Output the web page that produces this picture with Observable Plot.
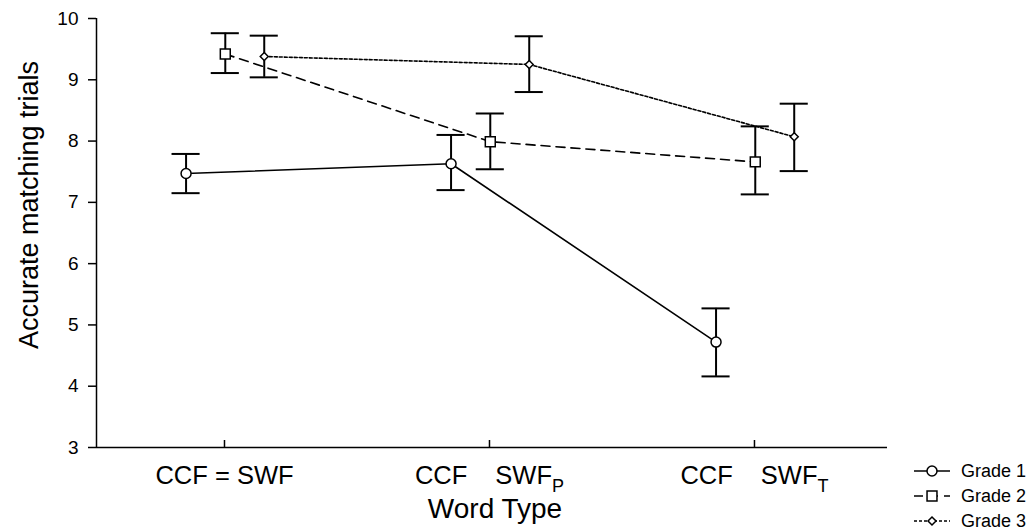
<!DOCTYPE html>
<html><head><meta charset="utf-8">
<script src="https://cdn.jsdelivr.net/npm/d3@7"></script>
<script src="https://cdn.jsdelivr.net/npm/@observablehq/plot@0.6"></script>
<style>body{margin:0;background:#fff;} #chart{width:1035px;height:530px;}</style>
</head><body><div id="chart"></div>
<script>
// ---- data ----
const categories = ["CCF = SWF", "CCF SWF_P", "CCF SWF_T"];
const tickMain = ["CCF = SWF", "CCF", "CCF"];
const tickSecond = ["", "SWF", "SWF"];
const tickSub = ["", "P", "T"];
const grades = ["Grade 1", "Grade 2", "Grade 3"];
const grade1Mean = [7.47, 7.63, 4.72];
const grade1Low  = [7.15, 7.20, 4.16];
const grade1High = [7.79, 8.10, 5.27];
const grade2Mean = [9.42, 7.99, 7.66];
const grade2Low  = [9.11, 7.54, 7.13];
const grade2High = [9.76, 8.45, 8.24];
const grade3Mean = [9.38, 9.25, 8.07];
const grade3Low  = [9.04, 8.80, 7.51];
const grade3High = [9.72, 9.71, 8.61];
const yTicks = [3, 4, 5, 6, 7, 8, 9, 10];

// ---- styles ----
const offsets = [-0.145, 0.003, 0.15];
const dashes = [null, "9,6", "3,2"];
const symbols = ["circle", "square", "diamond2"];
const radii = [5, 5.6, 3.6];
const capHalf = 0.053;
const FONT = "'Liberation Sans', Arial, Helvetica, sans-serif";

const series = [
  [grade1Mean, grade1Low, grade1High],
  [grade2Mean, grade2Low, grade2High],
  [grade3Mean, grade3Low, grade3High]
];
const rows = [];
series.forEach(([m, lo, hi], g) => {
  categories.forEach((c, i) => {
    rows.push({grade: grades[g], g, cat: c, x: i + offsets[g], mean: m[i], lo: lo[i], hi: hi[i]});
  });
});

const xDomain = [-0.483, 2.502];
const marks = [
  Plot.ruleY([3], {stroke: "black", strokeWidth: 1.5}),
  Plot.ruleX([xDomain[0]], {stroke: "black", strokeWidth: 1.5}),
  Plot.axisY({ticks: yTicks, tickSize: 8, tickPadding: 10, tickFormat: d => String(d), fontSize: 19, label: null, strokeWidth: 1.5}),
  Plot.axisX({ticks: [0, 1, 2], tickSize: -7, tickPadding: 25, tickFormat: i => tickMain[i], fontSize: 25.5, label: null, strokeWidth: 1.5}),
];
grades.forEach((gr, g) => {
  marks.push(Plot.line(rows.filter(d => d.g === g), {x: "x", y: "mean", stroke: "black", strokeWidth: 1.6, strokeDasharray: dashes[g]}));
});
marks.push(
  Plot.ruleX(rows, {x: "x", y1: "lo", y2: "hi", stroke: "black", strokeWidth: 2}),
  Plot.ruleY(rows, {y: "lo", x1: d => d.x - capHalf, x2: d => d.x + capHalf, stroke: "black", strokeWidth: 2}),
  Plot.ruleY(rows, {y: "hi", x1: d => d.x - capHalf, x2: d => d.x + capHalf, stroke: "black", strokeWidth: 2})
);
grades.forEach((gr, g) => {
  marks.push(Plot.dot(rows.filter(d => d.g === g), {x: "x", y: "mean", symbol: symbols[g], r: radii[g], fill: "white", stroke: "black", strokeWidth: 1.5}));
});
marks.push(
  Plot.text(["Accurate matching trials"], {frameAnchor: "left", textAnchor: "middle", lineAnchor: "middle", rotate: -90, dx: -67, dy: -28, fontSize: 27, fill: "black"}),
  Plot.text(["Word Type"], {frameAnchor: "bottom", textAnchor: "middle", lineAnchor: "middle", dx: 3, dy: 62, fontSize: 28, fill: "black"})
);

const chart = Plot.plot({
  width: 1035, height: 530,
  marginLeft: 96, marginRight: 148, marginTop: 18, marginBottom: 83,
  x: {type: "linear", domain: xDomain},
  y: {domain: [3, 10]},
  style: {fontFamily: FONT, color: "black", background: "white"},
  marks
});
document.getElementById("chart").appendChild(chart);

// subscripts on the x tick labels
const svg = d3.select(chart);
svg.selectAll('g[aria-label="x-axis tick label"] text').each(function(_, i) {
  const t = d3.select(this);
  t.text(null);
  t.append("tspan").text(tickMain[i]);
  if (tickSecond[i]) {
    t.append("tspan").attr("dx", 28).text(tickSecond[i]);
    t.append("tspan").attr("dy", 8).attr("font-size", 18).text(tickSub[i]);
  }
});

// legend
const lg = svg.append("g").attr("font-family", FONT).attr("font-size", 18).attr("text-anchor", "start");
grades.forEach((gr, g) => {
  const y = 471 + 25 * g;
  lg.append("line").attr("x1", 914).attr("x2", 950).attr("y1", y).attr("y2", y)
    .attr("stroke", "black").attr("stroke-width", 1.5).attr("stroke-dasharray", dashes[g]);
  const sym = d3.symbol(g === 0 ? d3.symbolCircle : g === 1 ? d3.symbolSquare : d3.symbolDiamond2, Math.PI * radii[g] * radii[g]);
  lg.append("path").attr("d", sym()).attr("transform", `translate(932,${y})`)
    .attr("fill", "white").attr("stroke", "black").attr("stroke-width", 1.5);
  lg.append("text").attr("x", 961).attr("y", y).attr("dy", "0.35em").attr("text-anchor", "start").text(gr);
});
</script>
</body></html>
